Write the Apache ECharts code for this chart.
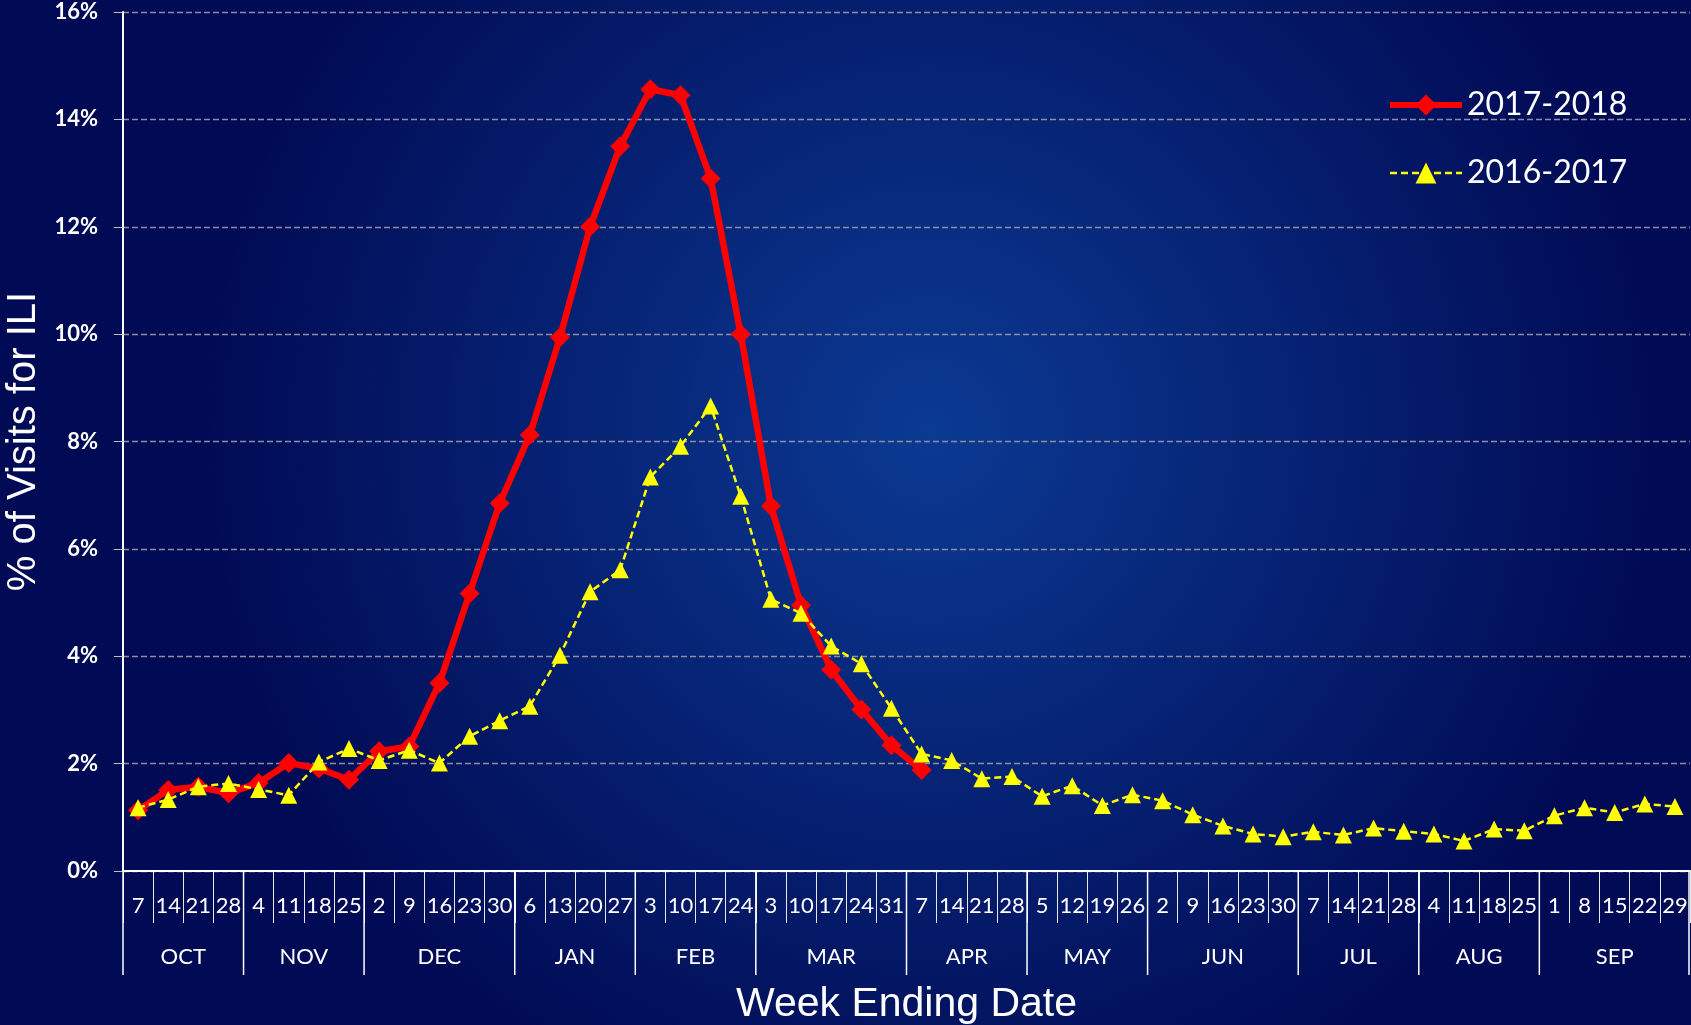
<!DOCTYPE html>
<html>
<head>
<meta charset="utf-8">
<script src="https://cdn.jsdelivr.net/npm/echarts@6/dist/echarts.min.js"></script>
<style>
html,body{margin:0;padding:0;background:#000b55;}
#chart{width:1691px;height:1025px;}
</style>
</head>
<body>
<div id="chart"></div>
<script>
// Week-ending day labels (Oct 7 .. Sep 29)
var days = ['7','14','21','28','4','11','18','25','2','9','16','23','30','6','13','20','27','3','10','17','24','3','10','17','24','31','7','14','21','28','5','12','19','26','2','9','16','23','30','7','14','21','28','4','11','18','25','1','8','15','22','29'];
// Month labels and number of weeks in each month
var months = ['OCT','NOV','DEC','JAN','FEB','MAR','APR','MAY','JUN','JUL','AUG','SEP'];
var monthWeeks = [4,4,5,4,4,5,4,4,5,4,4,5];
// % of visits for ILI
var season2017_2018 = [1.13,1.51,1.57,1.45,1.64,2.01,1.91,1.70,2.23,2.32,3.50,5.17,6.85,8.12,9.94,12.0,13.5,14.56,14.45,12.9,10.0,6.8,4.95,3.75,3.01,2.34,1.88];
var season2016_2017 = [1.18,1.33,1.57,1.63,1.52,1.41,2.03,2.28,2.06,2.25,2.01,2.51,2.80,3.07,4.02,5.20,5.61,7.34,7.91,8.66,6.98,5.06,4.80,4.19,3.86,3.03,2.18,2.06,1.72,1.76,1.39,1.59,1.22,1.42,1.31,1.05,0.84,0.69,0.64,0.73,0.67,0.80,0.74,0.69,0.56,0.78,0.75,1.03,1.18,1.09,1.25,1.20];
var yTicks = {min:0, max:16, interval:2};

var monthSpans = [];
var acc = 0;
for (var i = 0; i < monthWeeks.length; i++) {
  monthSpans.push([acc, acc + monthWeeks[i], 0]);
  acc += monthWeeks[i];
}

var RED = '#ff0000', YEL = '#ffff00';

var chart = echarts.init(document.getElementById('chart'));
var option = {
  backgroundColor: {
    type: 'radial', x: 0.55, y: 0.42, r: 0.72,
    colorStops: [
      {offset: 0, color: '#0b3a93'},
      {offset: 1, color: '#010a54'}
    ]
  },
  animation: false,
  grid: {left: 123, right: 1, top: 12, bottom: 154, containLabel: false, outerBoundsMode: 'none'},
  legend: {
    orient: 'vertical',
    left: 1387, top: 89,
    padding: 0,
    itemWidth: 72, itemHeight: 26, itemGap: 36,
    data: [
      {name: '2017-2018', lineStyle: {width: 6, color: RED}, itemStyle: {color: RED}},
      {name: '2016-2017', lineStyle: {width: 2.5, color: YEL, type: [7, 4]}, itemStyle: {color: YEL}}
    ],
    textStyle: {color: '#ffffff', fontSize: 32, fontFamily: 'Lato'}
  },
  xAxis: [{
    type: 'category',
    data: days,
    boundaryGap: true,
    position: 'bottom',
    name: 'Week Ending Date',
    nameLocation: 'middle',
    nameGap: 113,
    nameTextStyle: {color: '#ffffff', fontSize: 41, fontFamily: 'Liberation Sans'},
    axisLine: {show: true, lineStyle: {color: '#ffffff', width: 2}},
    axisTick: {show: true, interval: 0, length: 52, lineStyle: {color: '#e8e8e8', width: 1}},
    axisLabel: {interval: 0, color: '#ffffff', fontSize: 22, fontFamily: 'Lato', margin: 24},
    splitLine: {show: false}
  }, {
    type: 'value',
    min: 0, max: 52,
    show: false
  }],
  yAxis: {
    type: 'value',
    min: yTicks.min, max: yTicks.max, interval: yTicks.interval,
    name: '% of Visits for ILI',
    nameLocation: 'middle',
    nameGap: 79,
    nameTextStyle: {color: '#ffffff', fontSize: 40, fontFamily: 'Liberation Sans'},
    axisLine: {show: true, lineStyle: {color: '#ffffff', width: 2}},
    axisTick: {show: true, length: 9, lineStyle: {color: '#c0c0c0', width: 1}},
    axisLabel: {formatter: '{value}%', color: '#ffffff', fontSize: 22, fontWeight: 'bold', fontFamily: 'Lato', margin: 25},
    splitLine: {show: true, lineStyle: {color: '#8e8e9e', width: 1.3, type: [6, 3]}}
  },
  series: [{
    name: '2017-2018',
    type: 'line',
    data: season2017_2018,
    symbol: 'diamond',
    symbolSize: 20,
    lineStyle: {color: RED, width: 6.5},
    itemStyle: {color: RED},
    z: 3
  }, {
    name: '2016-2017',
    type: 'line',
    data: season2016_2017,
    symbol: 'triangle',
    symbolSize: 17,
    lineStyle: {color: YEL, width: 2.5, type: [7, 4]},
    itemStyle: {color: YEL},
    z: 4
  }, {
    type: 'custom',
    xAxisIndex: 1,
    yAxisIndex: 0,
    clip: false,
    silent: true,
    encode: {x: [0, 1], y: 2},
    data: monthSpans,
    renderItem: function (params, api) {
      var s = api.value(0), e = api.value(1);
      var p0 = api.coord([s, 0]);
      var p1 = api.coord([e, 0]);
      var children = [{
        type: 'line',
        shape: {x1: p0[0], y1: p0[1], x2: p0[0], y2: p0[1] + 104},
        style: {stroke: '#ffffff', lineWidth: 1.5}
      }, {
        type: 'text',
        style: {
          text: months[params.dataIndex],
          x: (p0[0] + p1[0]) / 2, y: p0[1] + 86,
          fill: '#ffffff', fontSize: 22, fontFamily: 'Lato',
          align: 'center', verticalAlign: 'middle'
        }
      }];
      if (params.dataIndex === months.length - 1) {
        children.push({
          type: 'line',
          shape: {x1: p1[0] - 1, y1: p1[1], x2: p1[0] - 1, y2: p1[1] + 104},
          style: {stroke: '#ffffff', lineWidth: 1.5}
        });
      }
      return {type: 'group', children: children};
    },
    z: 5
  }]
};
chart.setOption(option);
</script>
</body>
</html>
